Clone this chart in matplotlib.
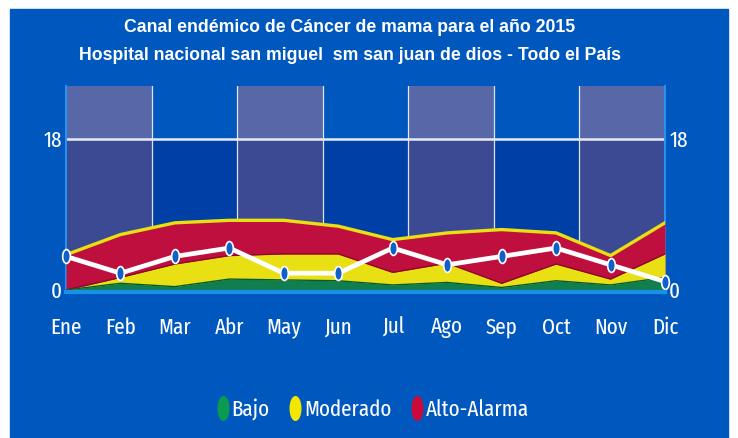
import numpy as np
import matplotlib
matplotlib.use("Agg")
import matplotlib.pyplot as plt
from matplotlib.path import Path
from matplotlib.lines import Line2D
from matplotlib.patches import Rectangle
import matplotlib.font_manager as fm
from matplotlib.font_manager import FontProperties

# ---------------- data ----------------
meses = ["Ene", "Feb", "Mar", "Abr", "May", "Jun", "Jul", "Ago", "Sep", "Oct", "Nov", "Dic"]
casos = [4, 2, 4, 5, 2, 2, 5, 3, 4, 5, 3, 1]
bajo = [0, 0.8, 0.4, 1.3, 1.2, 1.1, 0.6, 0.9, 0.3, 1.1, 0.6, 1.5]
moderado = [0, 1.5, 3.1, 4.1, 4.3, 4.3, 2.1, 3.2, 0.8, 3.1, 1.3, 4.3]
alto = [4.2, 6.6, 8.0, 8.3, 8.3, 7.6, 6.0, 6.8, 7.2, 6.8, 4.1, 8.0]
y_ticks = [0, 18]
leyenda = ["Bajo", "Moderado", "Alto-Alarma"]
titulo1 = "Canal endémico de Cáncer de mama para el año 2015"
titulo2 = "Hospital nacional san miguel  sm san juan de dios - Todo el País"

# ---------------- fonts ----------------
SMAP = {"ultra-condensed": 100, "extra-condensed": 200, "condensed": 300,
        "semi-condensed": 400, "normal": 500}


def eff_stretch(f):
    s = (f.name + " " + f.fname).replace(" ", "").lower()
    if "extracondensed" in s or "ultracondensed" in s:
        return 200
    if "semicondensed" in s:
        return 400
    if "condensed" in s or "narrow" in s:
        return 300
    st = f.stretch
    if isinstance(st, int):
        return st
    return SMAP.get(st, 500)


def wnum(w):
    if isinstance(w, int):
        return w
    return {"normal": 400, "regular": 400, "book": 400, "medium": 500, "bold": 700,
            "semibold": 600, "demibold": 600, "light": 300, "heavy": 800, "black": 900}.get(str(w).lower(), 400)


def pick(weight, target=300):
    best = None
    for f in fm.fontManager.ttflist:
        es = eff_stretch(f)
        if es >= 500 or f.style != "normal":
            continue
        nm = f.name.lower()
        if "mono" in nm or ("serif" in nm and "sans" not in nm):
            continue
        score = abs(wnum(f.weight) - weight) / 100 + abs(es - target) / 100
        if best is None or score < best[0]:
            best = (score, f.fname)
    return best[1] if best else None


narrow_file = pick(400, 200)


def narrow_fp(size):
    if narrow_file:
        return FontProperties(fname=narrow_file, size=size)
    return FontProperties(family="Liberation Sans", size=size)


panel = "#0058be"
low_dark = "#0040a6"
shade_low = "#3c4a94"
shade_up = "#5867a8"
red = "#bf0f3f"
yellow = "#e8e012"
green = "#0f7f4f"
leg_green = "#0a9a50"
axis_blue = "#1a90e8"

W, H = 738, 438
fig = plt.figure(figsize=(W / 100, H / 100), dpi=100)
fig.patch.set_facecolor("white")
fig.patches.append(Rectangle((10 / W, 0), (728 - 10) / W, (H - 9) / H,
                             transform=fig.transFigure, color=panel, zorder=-10))
renderer = fig.canvas.get_renderer()


def width_px(s, prop):
    t = fig.text(0, 0, s, fontproperties=prop)
    w = t.get_window_extent(renderer).width
    t.remove()
    return w


lbl_size = 10 * 88 / width_px("Moderado", narrow_fp(10))
lbl_size = min(lbl_size, 19)
title_prop0 = FontProperties(family="Liberation Sans", weight="bold", size=10)
title_size = 10 * 449 / width_px(titulo1, title_prop0)

top_px, bot_px, left_px, right_px = 86, 292, 66, 665
ax = fig.add_axes([left_px / W, 1 - bot_px / H, (right_px - left_px) / W, (bot_px - top_px) / H])
ymin, ymax = -0.24, 24.3
x = np.arange(len(meses))
xmax = len(meses) - 1
ax.set_xlim(0, xmax)
ax.set_ylim(ymin, ymax)
ax.set_facecolor(low_dark)

ax.add_patch(Rectangle((0, 18), xmax, ymax - 18, color=panel, zorder=0, lw=0))
edges = np.linspace(0, xmax, 8)
for i in range(7):
    if i % 2 == 0:
        ax.add_patch(Rectangle((edges[i], ymin), edges[i + 1] - edges[i], 18 - ymin,
                               color=shade_low, zorder=0.5, lw=0))
        ax.add_patch(Rectangle((edges[i], 18), edges[i + 1] - edges[i], ymax - 18,
                               color=shade_up, zorder=0.5, lw=0))
for e in edges[1:-1]:
    ax.axvline(e, color="white", lw=0.9, alpha=0.85, zorder=1)
ax.axhline(18, color="#e8eaf4", lw=1.8, zorder=1.2)

# areas
ax.fill_between(x, 0, alto, color=red, lw=0, zorder=3)
ax.plot(x, alto, color=yellow, lw=2.4, zorder=3.2, solid_joinstyle="round")
ax.fill_between(x, 0, moderado, color=yellow, lw=0, zorder=4)
ax.plot(x, moderado, color="#8c0a28", lw=1.0, zorder=4.2)
ax.fill_between(x, 0, bajo, color=green, lw=0, zorder=5)
ax.plot(x, bajo, color="#0a5a38", lw=1.0, zorder=5.2)

circ = Path.unit_circle()
ell = Path(circ.vertices * np.array([0.55, 1.0]), circ.codes)
ell_leg = Path(circ.vertices * np.array([0.45, 1.0]), circ.codes)

ax.plot(x, casos, color="white", lw=3.4, zorder=6, solid_joinstyle="round")
ax.plot(x, casos, ls="none", marker=ell, markersize=10, markerfacecolor="#1060c8",
        markeredgecolor="white", markeredgewidth=1.2, zorder=7, clip_on=False)

# spines
ax.spines["top"].set_visible(False)
ax.spines["bottom"].set_color(axis_blue)
ax.spines["bottom"].set_linewidth(3)
ax.spines["bottom"].set_zorder(8)
for s in ["left", "right"]:
    ax.spines[s].set_color("#2a94f4")
    ax.spines[s].set_linewidth(1.4)

tick_fp = narrow_fp(lbl_size)
ax.set_yticks(y_ticks)
ax.set_yticklabels([str(v) for v in y_ticks])
ax.tick_params(axis="y", length=0, labelcolor="white", pad=3,
               left=True, right=True, labelleft=True, labelright=True)
ax.set_xticks(x)
ax.set_xticklabels(meses)
ax.tick_params(axis="x", length=0, labelcolor="white", pad=18)
for tk in ax.xaxis.get_major_ticks() + ax.yaxis.get_major_ticks():
    tk.label1.set_fontproperties(tick_fp)
    tk.label2.set_fontproperties(tick_fp)
    tk.label2.set_color("white")

title_prop = FontProperties(family="Liberation Sans", weight="bold", size=title_size)
fig.text(350 / W, 1 - 27 / H, titulo1, ha="center", va="center", color="white",
         fontproperties=title_prop)
fig.text(350 / W, 1 - 55 / H, titulo2, ha="center", va="center", color="white",
         fontproperties=title_prop)

handles = [Line2D([], [], ls="none", marker=ell_leg, markersize=17, markerfacecolor=c, markeredgecolor=c)
           for c in [leg_green, "#f2e800", "#cc0a3a"]]
leg = fig.legend(handles, leyenda, loc="center", bbox_to_anchor=(373 / W, 1 - 409 / H), ncol=3,
                 frameon=False, handlelength=0.5, handletextpad=0.12, columnspacing=0.9,
                 prop=narrow_fp(lbl_size))
for t in leg.get_texts():
    t.set_color("white")

fig.savefig("out.png", dpi=100, facecolor=fig.get_facecolor())
